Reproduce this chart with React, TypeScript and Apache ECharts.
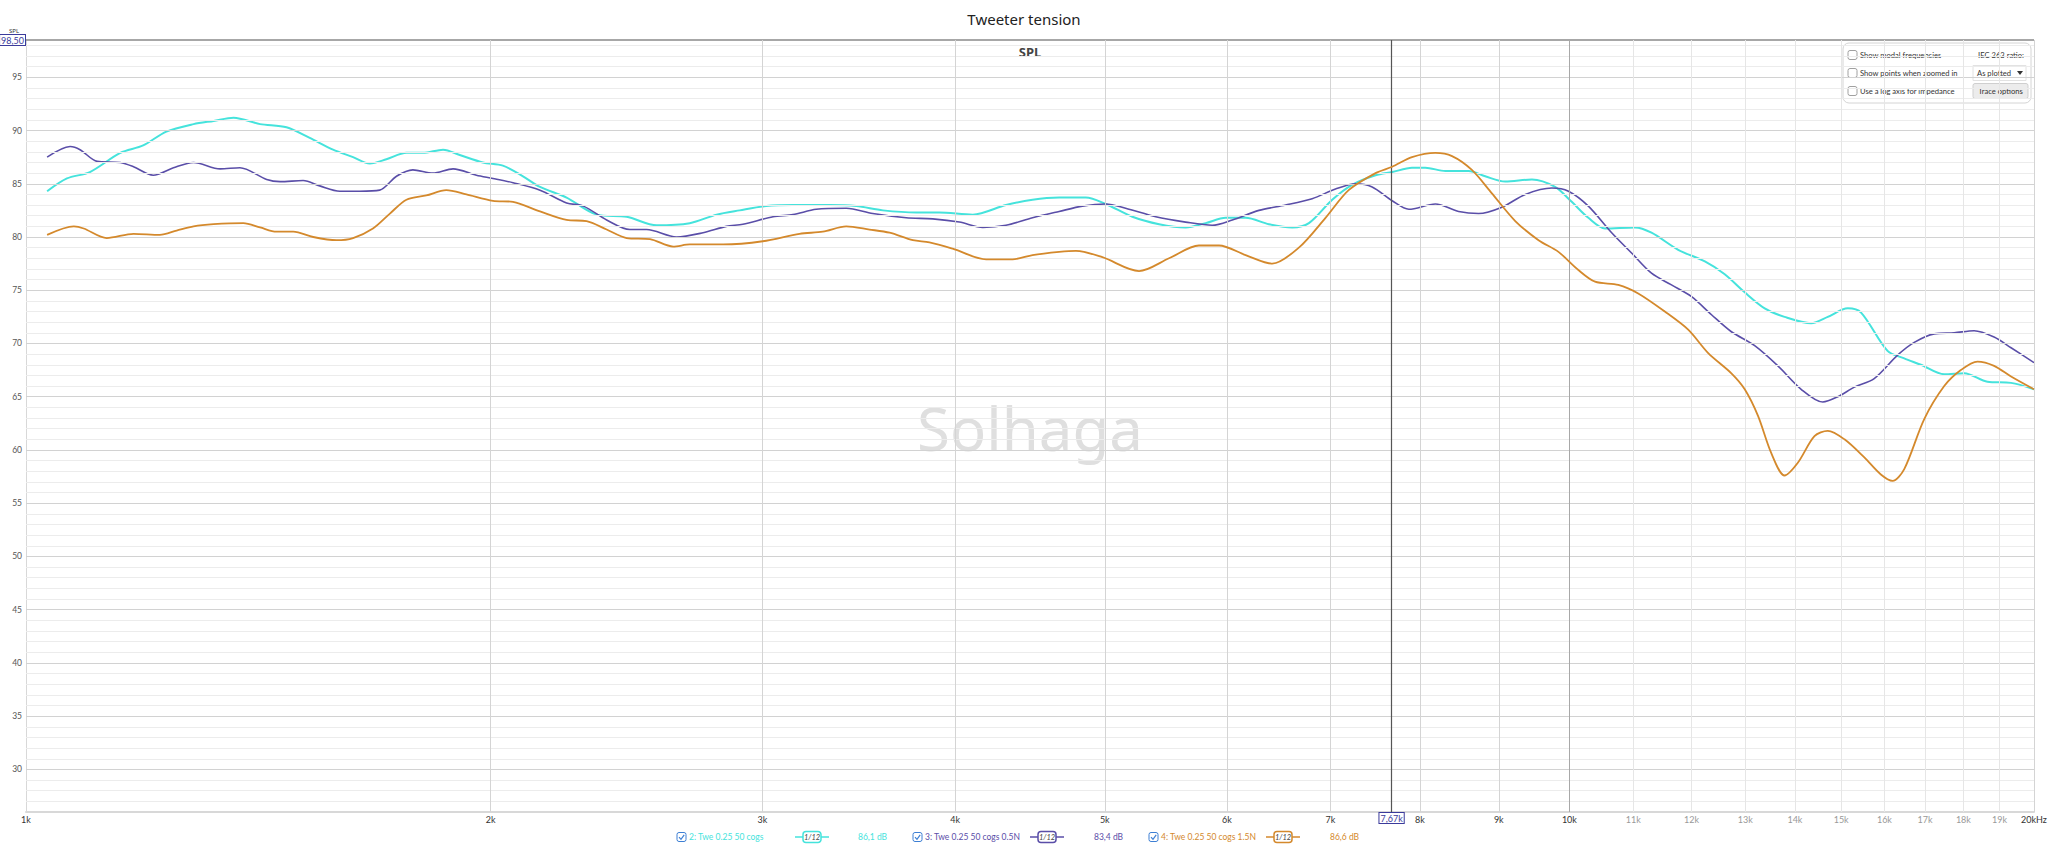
import React, { useEffect, useRef } from "react";
import * as echarts from "echarts";

// ---------- DATA ----------
const seriesNames = ["2: Twe 0.25 50 cogs", "3: Twe 0.25 50 cogs 0.5N", "4: Twe 0.25 50 cogs 1.5N"];
const seriesColors = ["#45e3dc", "#5a4ea8", "#d4892c"];
const cursorValues = ["86,1 dB", "83,4 dB", "86,6 dB"];
const cursorFreq = 7670;
const cursorLabel = "7,67k";
const yTopLabel = "98,50";

// [frequency Hz, SPL dB]
const tweCogs: number[][] = [
  [1032, 84.3], [1063, 85.5], [1100, 86.1], [1151, 87.9], [1191, 88.6], [1233, 89.9], [1284, 90.6], [1323, 90.9],
  [1363, 91.2], [1418, 90.6], [1475, 90.3], [1527, 89.3], [1581, 88.2], [1629, 87.5], [1670, 86.9], [1712, 87.3],
  [1764, 87.9], [1808, 87.9], [1863, 88.2], [1910, 87.7], [1977, 87.0], [2037, 86.7], [2099, 85.7], [2153, 84.7],
  [2240, 83.7], [2343, 82.1], [2450, 81.9], [2562, 81.1], [2692, 81.3], [2802, 82.1], [2900, 82.5], [3017, 82.9],
  [3140, 83.0], [3316, 83.0], [3451, 82.9], [3591, 82.5], [3774, 82.3], [3906, 82.3], [4106, 82.1], [4315, 83.0],
  [4489, 83.5], [4671, 83.7], [4860, 83.7], [5007, 83.1], [5210, 81.9], [5422, 81.2], [5641, 80.9], [5812, 81.3],
  [5988, 81.8], [6169, 81.8], [6387, 81.2], [6613, 80.9], [6780, 81.3], [7020, 83.5], [7231, 84.9], [7489, 85.8],
  [7677, 86.1], [7907, 86.5], [8066, 86.5], [8311, 86.2], [8604, 86.2], [8820, 85.7], [9087, 85.2], [9456, 85.4],
  [9789, 84.7], [10035, 83.3], [10287, 81.8], [10546, 80.8], [11026, 80.9], [11303, 80.4], [11762, 78.8],
  [12240, 77.7], [12608, 76.5], [12990, 74.8], [13382, 73.3], [13785, 72.5], [14343, 71.9], [14703, 72.5],
  [15149, 73.3], [15452, 72.9], [16074, 69.3], [16480, 68.6], [16895, 68.0], [17493, 67.1], [18022, 67.2],
  [18658, 66.4], [19327, 66.3], [20000, 65.7],
];

const tweCogs05N: number[][] = [
  [1032, 87.5], [1068, 88.5], [1084, 88.2], [1112, 87.1], [1151, 87.0], [1174, 86.6], [1209, 85.8], [1246, 86.5],
  [1284, 87.0], [1336, 86.4], [1376, 86.5], [1432, 85.4], [1461, 85.2], [1512, 85.3], [1550, 84.8], [1597, 84.3],
  [1645, 84.3], [1695, 84.4], [1738, 85.7], [1781, 86.3], [1835, 86.0], [1891, 86.4], [1958, 85.8], [2007, 85.5],
  [2068, 85.1], [2153, 84.4], [2240, 83.2], [2297, 82.9], [2378, 81.6], [2462, 80.7], [2524, 80.7], [2639, 80.0],
  [2746, 80.4], [2843, 81.0], [2914, 81.2], [3048, 81.9], [3140, 82.1], [3251, 82.6], [3400, 82.7], [3537, 82.2],
  [3718, 81.8], [3868, 81.7], [4025, 81.4], [4168, 80.9], [4315, 81.1], [4489, 81.8], [4671, 82.4], [4836, 82.9],
  [5007, 83.1], [5158, 82.7], [5395, 81.9], [5641, 81.4], [5869, 81.1], [6048, 81.6], [6293, 82.5], [6548, 83.0],
  [6813, 83.6], [7054, 84.5], [7268, 85.0], [7451, 84.7], [7677, 83.4], [7870, 82.6], [8188, 83.1], [8477, 82.4],
  [8733, 82.2], [9042, 82.8], [9363, 84.0], [9741, 84.6], [9986, 84.3], [10287, 82.9], [10651, 80.4],
  [10972, 78.5], [11303, 76.6], [11645, 75.5], [11999, 74.4], [12362, 72.7], [12734, 71.1], [13184, 69.8],
  [13649, 67.9], [14131, 65.7], [14594, 64.5], [14925, 65.0], [15299, 65.9], [15758, 66.7], [16317, 68.9],
  [16728, 70.1], [17234, 70.9], [17755, 71.0], [18292, 71.2], [18844, 70.6], [19327, 69.6], [20000, 68.2],
];

const tweCogs15N: number[][] = [
  [1032, 80.2], [1074, 81.0], [1090, 80.8], [1128, 79.9], [1174, 80.3], [1221, 80.2], [1252, 80.6], [1284, 81.0],
  [1323, 81.2], [1383, 81.3], [1418, 80.9], [1453, 80.5], [1490, 80.5], [1535, 80.0], [1589, 79.7], [1629, 79.9],
  [1678, 80.8], [1721, 82.2], [1764, 83.5], [1817, 83.9], [1872, 84.4], [1929, 84.0], [2007, 83.4], [2068, 83.3],
  [2153, 82.4], [2240, 81.6], [2308, 81.5], [2378, 80.7], [2450, 79.9], [2537, 79.8], [2626, 79.1], [2692, 79.3],
  [2829, 79.3], [3002, 79.6], [3171, 80.3], [3283, 80.5], [3400, 81.0], [3520, 80.7], [3627, 80.4], [3755, 79.7],
  [3849, 79.5], [3985, 78.9], [4189, 77.9], [4358, 77.9], [4489, 78.3], [4671, 78.6], [4789, 78.7], [4982, 78.1],
  [5262, 76.8], [5503, 78.0], [5754, 79.2], [5929, 79.2], [6169, 78.3], [6419, 77.5], [6679, 79.0], [6950, 81.8],
  [7194, 84.4], [7489, 86.0], [7677, 86.6], [7907, 87.5], [8188, 87.9], [8394, 87.6], [8646, 86.3], [8908, 84.1],
  [9224, 81.5], [9550, 79.7], [9838, 78.6], [10135, 76.9], [10390, 75.8], [10757, 75.5], [11081, 74.7],
  [11530, 73.0], [11939, 71.3], [12301, 69.1], [12734, 67.2], [12990, 65.7], [13250, 63.2], [13515, 59.7],
  [13785, 57.6], [14061, 58.8], [14414, 61.3], [14703, 61.8], [15074, 61.0], [15528, 59.3], [15915, 57.7],
  [16196, 57.1], [16480, 58.2], [16979, 62.9], [17493, 66.0], [17932, 67.5], [18383, 68.3], [18844, 67.9],
  [19327, 66.9], [20000, 65.7],
];

const majorFreqs = [2000, 3000, 4000, 5000, 6000, 7000, 8000, 9000, 10000];
const majorFreqLabels = ["2k", "3k", "4k", "5k", "6k", "7k", "8k", "9k", "10k"];
const minorFreqs = [11000, 12000, 13000, 14000, 15000, 16000, 17000, 18000, 19000];
const minorFreqLabels = ["11k", "12k", "13k", "14k", "15k", "16k", "17k", "18k", "19k"];
const xMin = 1000;
const xMax = 20000;
const xMinLabel = "1k";
const xMaxLabel = "20kHz";
const yMin = 26;
const yMax = 98.5;

const panelChecks = ["Show modal frequencies", "Show points when zoomed in", "Use a log axis for impedance"];

const FONT = "Noto Sans";
const UI_FONT = "Lato";

function buildGridLines() {
  const lines: any[] = [];
  for (let v = Math.ceil(yMin) + 1; v < yMax; v++) {
    const major = v % 5 === 0;
    lines.push({
      yAxis: v,
      lineStyle: { color: major ? "#d2d2d2" : "#ececec", width: major ? 1.2 : 1, type: "solid" },
      label: { show: false },
    });
  }
  lines.push({
    yAxis: yMax,
    lineStyle: { color: "#8a8a8a", width: 1.5, type: "solid" },
    label: {
      show: true, position: "start", formatter: yTopLabel, color: "#3b3b9b", fontSize: 9, fontFamily: UI_FONT,
      borderColor: "#3b3b9b", borderWidth: 1, backgroundColor: "#fff", padding: [1, 1, 0, 1], distance: 1,
    },
  });
  const xl = (f: number, text: string, color: string, lineColor: string) => ({
    xAxis: f,
    lineStyle: { color: lineColor, width: 1, type: "solid" },
    label: { show: true, position: "start", formatter: text, color, fontSize: 9, fontFamily: UI_FONT, distance: 3 },
  });
  lines.push(xl(xMin, xMinLabel, "#333", "rgba(0,0,0,0)"));
  majorFreqs.forEach((f, i) => lines.push(xl(f, majorFreqLabels[i], "#333", f === 10000 ? "#a8a8a8" : "#d4d4d4")));
  minorFreqs.forEach((f, i) => lines.push(xl(f, minorFreqLabels[i], "#999", "#e6e6e6")));
  lines.push(xl(xMax, xMaxLabel, "#333", "#d4d4d4"));
  lines.push({
    xAxis: cursorFreq,
    lineStyle: { color: "#555", width: 1.2, type: "solid" },
    label: {
      show: true, position: "start", formatter: cursorLabel, color: "#3b3b9b", fontSize: 9, fontFamily: UI_FONT,
      borderColor: "#3b3b9b", borderWidth: 1, backgroundColor: "#fff", padding: [1, 1, 0, 1], distance: 1,
    },
  });
  return lines;
}

function checkbox(x: number, y: number, color: string, checked: boolean) {
  const els: any[] = [
    { type: "rect", shape: { x, y, width: 9, height: 9, r: 2 }, style: { fill: "#fff", stroke: color, lineWidth: 1 } },
  ];
  if (checked) {
    els.push({
      type: "polyline",
      shape: { points: [[x + 2, y + 4.6], [x + 4, y + 6.8], [x + 7.2, y + 2.4]] },
      style: { stroke: color, lineWidth: 1.2, fill: null },
    });
  }
  return els;
}

function buildGraphics() {
  const els: any[] = [];
  els.push({
    type: "text", z: 0, x: 1030, y: 428,
    style: { text: "Solhaga", fontSize: 60, fontFamily: FONT, fill: "#dfdfdf", align: "center", verticalAlign: "middle" },
  });
  els.push({
    type: "text", x: 1030, y: 52,
    style: { text: "SPL", fontSize: 13, fontWeight: "bold", fontFamily: FONT, fill: "#444", align: "center", verticalAlign: "middle" },
  });
  els.push({
    type: "text", x: 14, y: 31,
    style: { text: "SPL", fontSize: 6, fontFamily: FONT, fill: "#333", align: "center", verticalAlign: "middle" },
  });
  // legend
  const cbX = [677, 913, 1149];
  const symX = [795, 1030, 1266];
  const valX = [858, 1094, 1330];
  const ly = 837;
  seriesNames.forEach((name, i) => {
    const c = seriesColors[i];
    els.push(...checkbox(cbX[i], ly - 4.5, "#3d7fd4", true));
    els.push({ type: "text", x: cbX[i] + 12, y: ly, style: { text: name, fontSize: 8.5, fontFamily: UI_FONT, fill: c, verticalAlign: "middle" } });
    els.push({ type: "line", shape: { x1: symX[i], y1: ly, x2: symX[i] + 34, y2: ly }, style: { stroke: c, lineWidth: 1.5 } });
    els.push({ type: "rect", shape: { x: symX[i] + 8, y: ly - 5.5, width: 18, height: 11, r: 3 }, style: { fill: "#fff", stroke: c, lineWidth: 1.5 } });
    els.push({ type: "text", x: symX[i] + 17, y: ly, style: { text: "1/12", fontSize: 7.5, fontStyle: "italic", fontFamily: UI_FONT, fill: "#444", align: "center", verticalAlign: "middle" } });
    els.push({ type: "text", x: valX[i], y: ly, style: { text: cursorValues[i], fontSize: 8.5, fontFamily: UI_FONT, fill: c, verticalAlign: "middle" } });
  });
  // options panel
  const pf = 7.6;
  els.push({ type: "rect", shape: { x: 1843, y: 43, width: 188, height: 60, r: 6 }, style: { fill: "#fff", stroke: "#d4d4d4", lineWidth: 1 } });
  panelChecks.forEach((t, i) => {
    const y = 55 + i * 18;
    els.push(...checkbox(1848, y - 4.5, "#a0a0a0", false));
    els.push({ type: "text", x: 1860, y, style: { text: t, fontSize: pf, fontFamily: UI_FONT, fill: "#333", verticalAlign: "middle" } });
  });
  els.push({ type: "text", x: 2024, y: 55, style: { text: "IEC 263 ratio:", fontSize: pf, fontFamily: UI_FONT, fill: "#333", align: "right", verticalAlign: "middle" } });
  els.push({ type: "rect", shape: { x: 1973, y: 65.5, width: 53, height: 15 }, style: { fill: "#fff", stroke: "#e2e2e2", lineWidth: 1 } });
  els.push({ type: "text", x: 1977, y: 73, style: { text: "As plotted", fontSize: pf, fontFamily: UI_FONT, fill: "#333", verticalAlign: "middle" } });
  els.push({ type: "polygon", shape: { points: [[2017, 71], [2023, 71], [2020, 75]] }, style: { fill: "#333" } });
  els.push({ type: "rect", shape: { x: 1973, y: 83.5, width: 55, height: 15, r: 2 }, style: { fill: "#ececec", stroke: "#cfcfcf", lineWidth: 1 } });
  els.push({ type: "text", x: 2000.5, y: 91, style: { text: "Trace options", fontSize: pf, fontFamily: UI_FONT, fill: "#333", align: "center", verticalAlign: "middle" } });
  return els;
}

export default function App() {
  const ref = useRef<HTMLDivElement>(null);
  useEffect(() => {
    if (!ref.current) return;
    const chart = echarts.init(ref.current, undefined, { renderer: "svg" });
    const dataSets = [tweCogs, tweCogs05N, tweCogs15N];
    const widths = [2, 1.6, 1.8];
    chart.setOption({
      animation: false,
      backgroundColor: "#fff",
      textStyle: { fontFamily: FONT },
      title: {
        text: "Tweeter tension", left: "center", top: 6,
        textStyle: { fontSize: 15, fontWeight: "normal", color: "#222", fontFamily: FONT },
      },
      grid: { left: 26, right: 14, top: 40, bottom: 34, containLabel: false },
      xAxis: {
        type: "log", logBase: 10, min: xMin, max: xMax,
        axisLabel: { show: false }, axisTick: { show: false }, splitLine: { show: false },
        axisLine: { show: true, lineStyle: { color: "#d8d8d8", width: 2 } },
      },
      yAxis: {
        type: "value", min: yMin, max: yMax, interval: 1,
        axisLabel: {
          interval: 0, fontSize: 8.5, color: "#555", margin: 4, fontFamily: UI_FONT,
          formatter: (v: number) => (v % 5 === 0 && v >= 30 && v <= 95 ? String(v) : ""),
        },
        axisTick: { show: false }, splitLine: { show: false },
        axisLine: { show: true, lineStyle: { color: "#d8d8d8", width: 1 } },
      },
      graphic: { elements: buildGraphics() },
      series: [
        {
          type: "line", name: "grid", data: [], z: 1, silent: true,
          markLine: { silent: true, symbol: ["none", "none"], animation: false, data: buildGridLines() },
        },
        ...dataSets.map((d, i) => ({
          type: "line", name: seriesNames[i], data: d, showSymbol: false, symbol: "none", smooth: 0.3, z: 3 + i,
          lineStyle: { color: seriesColors[i], width: widths[i] }, itemStyle: { color: seriesColors[i] },
        })),
      ],
    });
    return () => chart.dispose();
  }, []);
  return <div ref={ref} style={{ position: "absolute", left: 0, top: 0, width: 2048, height: 846 }} />;
}
